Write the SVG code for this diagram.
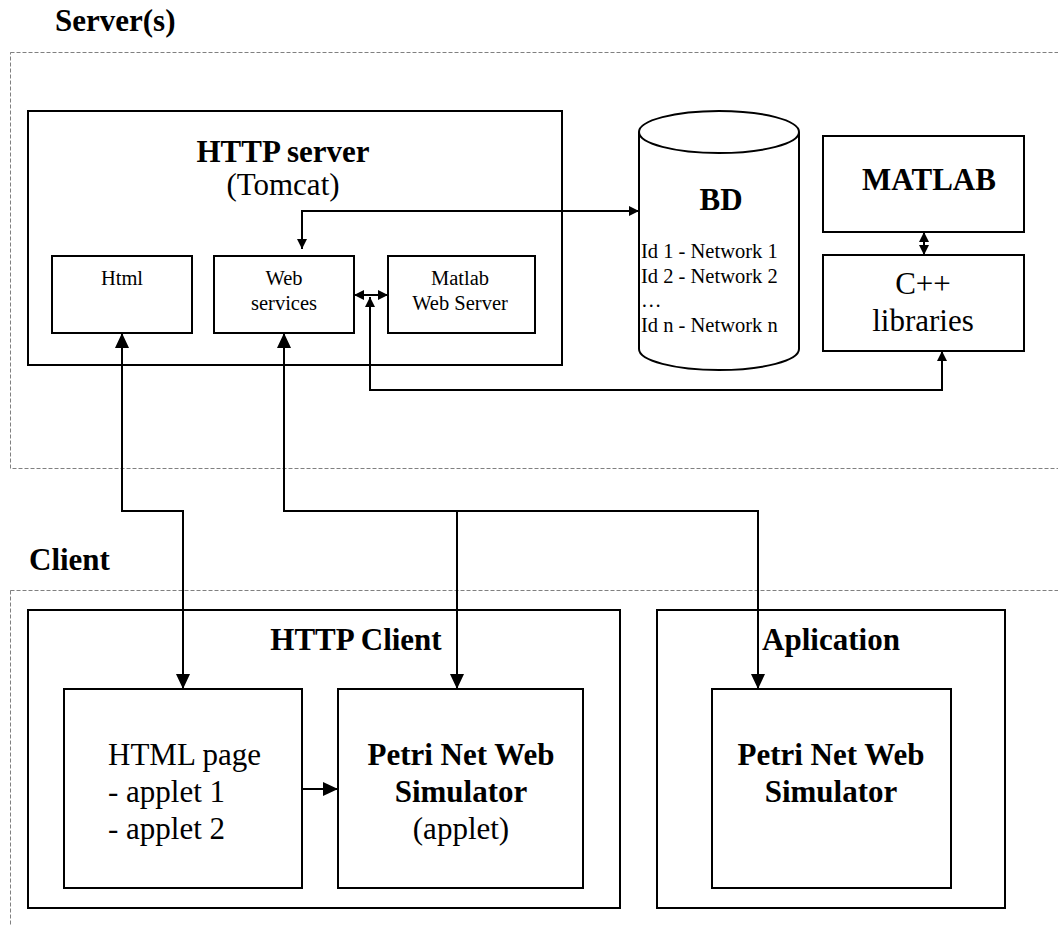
<svg xmlns="http://www.w3.org/2000/svg" width="1058" height="926" viewBox="0 0 1058 926">
<style>
text{font-family:"Liberation Serif","Times New Roman",serif;fill:#000}
.b{font-weight:bold;font-size:31px}
.r{font-size:31px}
.s{font-size:20.5px}
.box{fill:#fff;stroke:#000;stroke-width:2}
.dash{fill:none;stroke:#808080;stroke-width:1;stroke-dasharray:4,2}
.c{fill:none;stroke:#000;stroke-width:2}
.sm{marker-start:url(#as);marker-end:url(#as)}
.bg{marker-start:url(#ab);marker-end:url(#ab)}
.be{marker-end:url(#ab)}
</style>
<defs>
<marker id="as" markerUnits="userSpaceOnUse" markerWidth="11" markerHeight="11" refX="10" refY="5" orient="auto-start-reverse" viewBox="0 0 11 11"><path d="M0,0 L10,5 L0,10 z" fill="#000"/></marker>
<marker id="ab" markerUnits="userSpaceOnUse" markerWidth="16" markerHeight="15" refX="15" refY="7" orient="auto-start-reverse" viewBox="0 0 16 15"><path d="M0,0 L15,7 L0,14 z" fill="#000"/></marker>
</defs>
<rect width="1058" height="926" fill="#fff"/>

<g id="servers">
<text class="b" x="55" y="31">Server(s)</text>
<rect class="dash" x="10.5" y="52.5" width="1070" height="416"/>
</g>
<g id="client">
<text class="b" x="29" y="570">Client</text>
<rect class="dash" x="10.5" y="590.5" width="1070" height="360"/>
</g>

<g id="http-server">
<rect class="box" x="28" y="111" width="534" height="254"/>
<text class="b" x="283" y="162" text-anchor="middle">HTTP server</text>
<text class="r" x="283" y="195" text-anchor="middle">(Tomcat)</text>
</g>
<g id="html">
<rect class="box" x="52" y="256" width="140" height="77"/>
<text class="s" x="122" y="285" text-anchor="middle">Html</text>
</g>
<g id="web-services">
<rect class="box" x="214" y="256" width="140" height="77"/>
<text class="s" x="284" y="285" text-anchor="middle">Web</text>
<text class="s" x="284" y="310" text-anchor="middle">services</text>
</g>
<g id="matlab-web-server">
<rect class="box" x="388" y="256" width="147" height="77"/>
<text class="s" x="460" y="285" text-anchor="middle">Matlab</text>
<text class="s" x="460" y="310" text-anchor="middle">Web Server</text>
</g>
<g id="bd">
<path class="box" d="M639,132 V349 A80,21 0 0 0 799,349 V132 A80,21 0 0 0 639,132 Z"/>
<path d="M639,132 A80,21 0 0 0 799,132" fill="none" stroke="#000" stroke-width="2"/>
<text class="b" x="721" y="210" text-anchor="middle">BD</text>
<text class="s" x="641" y="258">Id 1 - Network 1</text>
<text class="s" x="641" y="283">Id 2 - Network 2</text>
<text class="s" x="641" y="307">…</text>
<text class="s" x="641" y="332">Id n - Network n</text>
</g>
<g id="matlab">
<rect class="box" x="823" y="136" width="201" height="96"/>
<text class="b" x="929" y="190" text-anchor="middle">MATLAB</text>
</g>
<g id="cpp">
<rect class="box" x="823" y="255" width="201" height="96"/>
<text class="r" x="923" y="294" text-anchor="middle">C++</text>
<text class="r" x="923" y="331" text-anchor="middle">libraries</text>
</g>

<g id="http-client">
<rect class="box" x="28" y="610" width="592" height="298"/>
<text class="b" x="356" y="650" text-anchor="middle">HTTP Client</text>
</g>
<g id="html-page">
<rect class="box" x="64" y="689" width="238" height="199"/>
<text class="r" x="108" y="765">HTML page</text>
<text class="r" x="108" y="802">- applet 1</text>
<text class="r" x="108" y="839">- applet 2</text>
</g>
<g id="petri-applet">
<rect class="box" x="338" y="689" width="245" height="199"/>
<text class="b" x="461" y="765" text-anchor="middle">Petri Net Web</text>
<text class="b" x="461" y="802" text-anchor="middle">Simulator</text>
<text class="r" x="461" y="839" text-anchor="middle">(applet)</text>
</g>
<g id="aplication">
<rect class="box" x="657" y="610" width="348" height="298"/>
<text class="b" x="831" y="650" text-anchor="middle">Aplication</text>
</g>
<g id="petri-app">
<rect class="box" x="712" y="689" width="239" height="199"/>
<text class="b" x="831" y="765" text-anchor="middle">Petri Net Web</text>
<text class="b" x="831" y="802" text-anchor="middle">Simulator</text>
</g>

<g id="connectors">
<path class="c sm" d="M302,249 V211 H639"/>
<path class="c sm" d="M354,295 H388"/>
<path class="c sm" d="M370,297 V390 H942 V351"/>
<path class="c sm" d="M924,232 V255"/>
<path class="c bg" d="M122,333 V511 H183 V689"/>
<path class="c bg" d="M284,333 V511 H758 V689"/>
<path class="c be" d="M457,511 V689"/>
<path class="c be" d="M302,789 H338"/>
</g>
</svg>
